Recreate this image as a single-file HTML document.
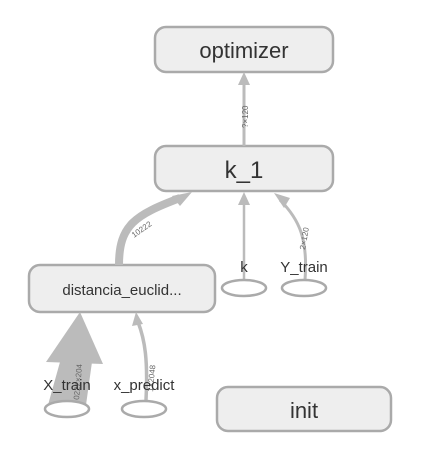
<!DOCTYPE html>
<html><head><style>body{margin:0;background:#fff}svg{display:block}text{font-family:"Liberation Sans",sans-serif;fill:#333}</style></head><body>
<svg width="435" height="457" viewBox="0 0 435 457">
<g fill="#eee" stroke="#aaa" stroke-width="2.5">
<rect x="155" y="27" width="178" height="45" rx="11"/>
<rect x="155" y="146" width="178" height="45" rx="11"/>
<rect x="29" y="265" width="186" height="47" rx="11"/>
<rect x="217" y="387" width="174" height="44" rx="11"/>
</g>
<g stroke="#bbb" fill="none">
<line x1="244" y1="146" x2="244" y2="80" stroke-width="3"/>
<line x1="244" y1="280" x2="244" y2="200" stroke-width="2.5"/>
<path d="M305 280 C308 240 300 220 280 200" stroke-width="3"/>
<path d="M119 265 C119 225 135 215 180 198" stroke-width="8"/>
<path d="M146 400 C148 360 145 340 138 322" stroke-width="3.5"/>
</g>
<g fill="#bbb">
<polygon points="48,405 86,405 92,362 60,362"/>
<polygon points="244,72 238,85 250,85"/>
<polygon points="244,192 238,205 250,205"/>
<polygon points="274,193 284,208 290,198"/>
<polygon points="192,192 172,196 180,206"/>
<polygon points="136,312 132,326 143,324"/>
<polygon points="80,312 46,362 103,364"/>
</g>
<g fill="#fff" stroke="#aaa" stroke-width="2.5">
<ellipse cx="244" cy="288" rx="22" ry="8"/>
<ellipse cx="304" cy="288" rx="22" ry="8"/>
<ellipse cx="67" cy="409" rx="22" ry="8"/>
<ellipse cx="144" cy="409" rx="22" ry="8"/>
</g>
<g font-size="8">
<text transform="translate(248,128) rotate(-90)" style="fill:#666">?×120</text>
<text transform="translate(134,238) rotate(-35)" style="fill:#666">10222</text>
<text transform="translate(305,250) rotate(-80)" style="fill:#666">2×120</text>
<text transform="translate(153,392) rotate(-85)" style="fill:#666">1×2048</text>
<text transform="translate(79,400) rotate(-85)" style="fill:#666">0222×204</text>
</g>
<text x="244" y="58" font-size="22" text-anchor="middle">optimizer</text>
<text x="244" y="178" font-size="24" text-anchor="middle">k_1</text>
<text x="122" y="295" font-size="15" text-anchor="middle">distancia_euclid...</text>
<text x="304" y="418" font-size="22" text-anchor="middle">init</text>
<text x="244" y="272" font-size="15" text-anchor="middle">k</text>
<text x="304" y="272" font-size="15" text-anchor="middle">Y_train</text>
<text x="67" y="390" font-size="15" text-anchor="middle">X_train</text>
<text x="144" y="390" font-size="15" text-anchor="middle">x_predict</text>
</svg>
</body></html>
